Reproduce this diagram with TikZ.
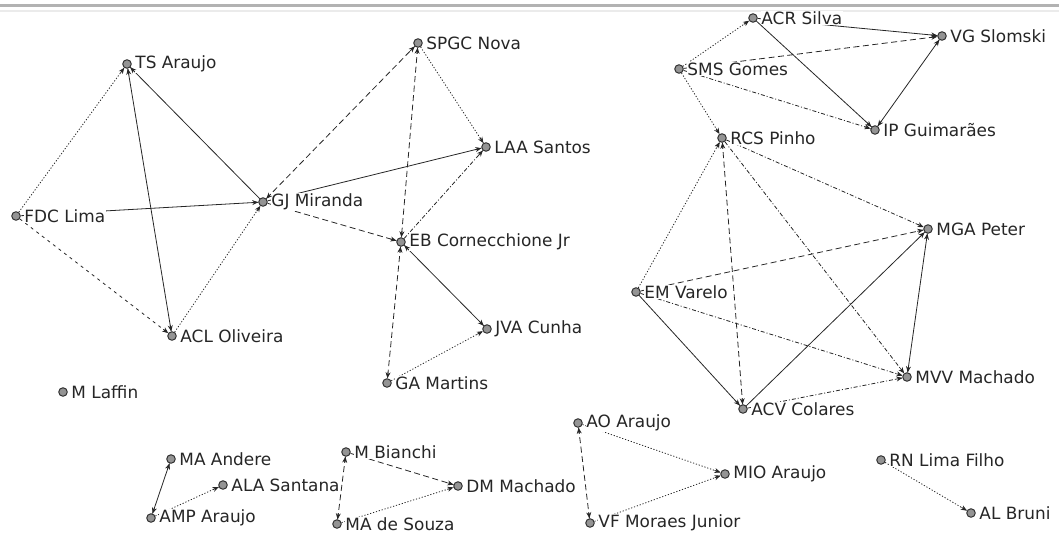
\documentclass[tikz,border=0pt]{standalone}
\usepackage{fontspec}
\setmainfont{DejaVu Sans}
\usetikzlibrary{arrows.meta,backgrounds,calc}

\tikzset{
  x=1pt, y=-1pt,
  dot/.style={circle, draw=black!80, fill=black!42, line width=1pt,
              inner sep=0pt, minimum size=8.5pt},
  who/.style={anchor=west, inner sep=0.5pt, fill=white, text=black!85,
              font=\fontsize{16.9}{17}\selectfont},
  tip/.style={-{Stealth[length=6pt,width=5pt]}},
  tie/.style={draw=black!85, line width=0.8pt},
  solidtie/.style={tie},
  dottie/.style={tie, dash pattern=on 1.2pt off 1.8pt},
  loosetie/.style={tie, dash pattern=on 3pt off 4pt},
  dashtie/.style={tie, dash pattern=on 6pt off 3.5pt},
  dashdottie/.style={tie, dash pattern=on 4pt off 2pt on 1pt off 2pt},
  rule/.style={draw=black!30, line width=3pt},
  softrule/.style={draw=black!8, line width=1.5pt},
}

% an author: a dot plus its name to the right
\newcommand\person[4]{%
  \node[dot] (#1) at (#2,#3) {};
  \node[who] (#1-t) at ([xshift=3pt]#1.east) {#4};}

% a directed tie: the line sits behind the names, the tip in front
\newcommand\link[3]{%
  \begin{pgfonlayer}{background}\draw[#1] (#2) -- (#3);\end{pgfonlayer}
  \draw[tie, tip] ($(#3)!11pt!(#2)$) -- (#3);}
% a mutual tie: tips at both ends
\newcommand\mutual[3]{%
  \link{#1}{#2}{#3}%
  \draw[tie, tip] ($(#2)!11pt!(#3)$) -- (#2);}

\begin{document}
\begin{tikzpicture}
\useasboundingbox (0,0) rectangle (1059,540);
\path[rule] (0,6) coordinate (r1) -- (1059,6) coordinate (r2);
\path[softrule] (0,11) coordinate (s1) -- (1059,11) coordinate (s2);

% left cluster
\person{ts}{127}{64}{TS Araujo}
\person{fdc}{16}{216}{FDC Lima}
\person{gj}{263}{202}{GJ Miranda}
\person{acl}{172}{336}{ACL Oliveira}
\person{spgc}{418}{43}{SPGC Nova}
\person{laa}{486}{147}{LAA Santos}
\person{eb}{401}{242}{EB Cornecchione Jr}
\person{jva}{487}{329}{JVA Cunha}
\person{ga}{387}{383}{GA Martins}
\person{ml}{63}{392}{M Laffin}

% right cluster
\person{acr}{753}{18}{ACR Silva}
\person{vg}{942}{36}{VG Slomski}
\person{sms}{679}{69}{SMS Gomes}
\person{ip}{875}{130}{IP Guimarães}
\person{rcs}{722}{138}{RCS Pinho}
\person{mga}{928}{229}{MGA Peter}
\person{em}{636}{292}{EM Varelo}
\person{mvv}{907}{377}{MVV Machado}
\person{acv}{743}{409}{ACV Colares}

% small groups
\person{ao}{578}{423}{AO Araujo}
\person{mio}{725}{474}{MIO Araujo}
\person{vf}{590}{523}{VF Moraes Junior}
\person{rn}{881}{460}{RN Lima Filho}
\person{alb}{971}{513}{AL Bruni}
\person{maa}{171}{459}{MA Andere}
\person{ala}{223}{485}{ALA Santana}
\person{amp}{151}{518}{AMP Araujo}
\person{mbi}{346}{452}{M Bianchi}
\person{dm}{458}{486}{DM Machado}
\person{mas}{337}{524}{MA de Souza}

% left cluster ties
\link{dottie}{fdc}{ts}
\link{solidtie}{fdc}{gj}
\link{loosetie}{fdc}{acl}
\mutual{solidtie}{acl}{ts}
\link{solidtie}{gj}{ts}
\link{dottie}{acl}{gj}
\mutual{dashtie}{gj}{spgc}
\link{solidtie}{gj}{laa}
\link{dashtie}{gj}{eb}
\link{dottie}{spgc}{laa}
\mutual{dashtie}{spgc}{eb}
\link{dashdottie}{eb}{laa}
\mutual{solidtie}{eb}{jva}
\mutual{dashtie}{eb}{ga}
\link{dottie}{ga}{jva}

% right cluster ties
\link{dottie}{sms}{acr}
\link{solidtie}{acr}{vg}
\link{dashtie}{sms}{vg}
\link{solidtie}{acr}{ip}
\link{dashdottie}{sms}{ip}
\mutual{solidtie}{ip}{vg}
\link{dottie}{sms}{rcs}
\link{dashdottie}{rcs}{mga}
\mutual{dashtie}{rcs}{acv}
\link{dashdottie}{rcs}{mvv}
\link{dottie}{em}{rcs}
\link{dashtie}{em}{mga}
\link{dashdottie}{em}{mvv}
\link{solidtie}{em}{acv}
\link{solidtie}{acv}{mga}
\mutual{solidtie}{mvv}{mga}
\link{dashdottie}{acv}{mvv}

% small group ties
\mutual{solidtie}{maa}{amp}
\link{dottie}{amp}{ala}
\mutual{dashtie}{mbi}{mas}
\link{dashtie}{mbi}{dm}
\link{dottie}{mas}{dm}
\mutual{dashtie}{ao}{vf}
\link{dottie}{ao}{mio}
\link{dottie}{vf}{mio}
\link{dottie}{rn}{alb}
\end{tikzpicture}
\end{document}
